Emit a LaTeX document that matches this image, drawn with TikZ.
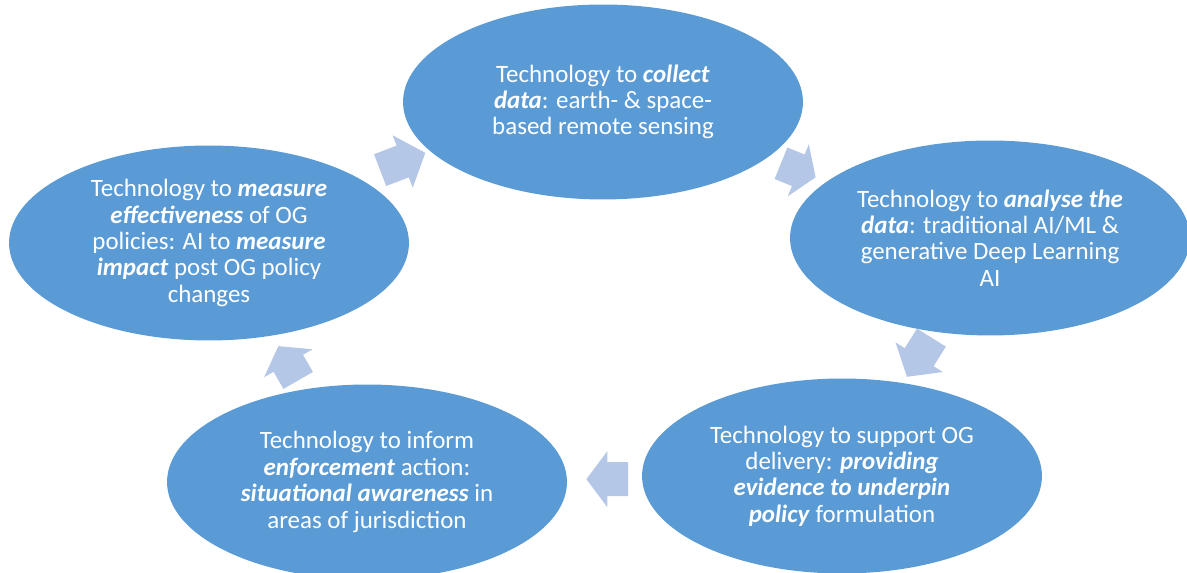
\documentclass[tikz,border=0pt]{standalone}
\usepackage{fontspec}
\setmainfont{Carlito}
\usetikzlibrary{shapes.geometric}
\definecolor{ellblue}{HTML}{5B9BD5}
\definecolor{arrblue}{HTML}{B4C7E7}
\newcommand{\kw}[1]{\textbf{\textit{#1}}}
\begin{document}
\begin{tikzpicture}[x=0.02cm,y=0.02cm,
  stage/.style={ellipse, fill=ellblue, draw=none, minimum width=8cm, minimum height=3.9cm,
    inner sep=0pt, text=white, align=center, font=\fontsize{14.2}{15}\selectfont},
  cyclearrow/.pic={\fill[arrblue] (-22,-17) -- (0,-17) -- (0,-28) -- (22,0) -- (0,28) -- (0,17) -- (-22,17) -- cycle;}]
\useasboundingbox (0,0) rectangle (1187,573);
\node[stage] (collect) at (603,471) {Technology to \kw{collect}\\ \kw{data}: earth- \& space-\\ based remote sensing};
\node[stage] (analyse) at (990,335) {Technology to \kw{analyse the}\\ \kw{data}: traditional AI/ML \&\\ generative Deep Learning\\ AI};
\node[stage] (support) at (842,97) {Technology to support OG\\ delivery: \kw{providing}\\ \kw{evidence to underpin}\\ \kw{policy} formulation};
\node[stage] (inform) at (367,91) {Technology to inform\\ \kw{enforcement} action:\\ \kw{situational awareness} in\\ areas of jurisdiction};
\node[stage] (measure) at (209,330) {Technology to \kw{measure}\\ \kw{effectiveness} of OG\\ policies: AI to \kw{measure}\\ \kw{impact} post OG policy\\ changes};
\pic[rotate=21,xscale=1.1] at (402.7,411.5) {cyclearrow};
\pic[rotate=-22,xscale=0.85] at (798.3,402.7) {cyclearrow};
\pic[rotate=238,xscale=1.05] at (919.2,215.8) {cyclearrow};
\pic[rotate=180,xscale=0.95] at (607.3,93.8) {cyclearrow};
\pic[rotate=120,xscale=0.9] at (288.3,209.7) {cyclearrow};
\end{tikzpicture}
\end{document}
